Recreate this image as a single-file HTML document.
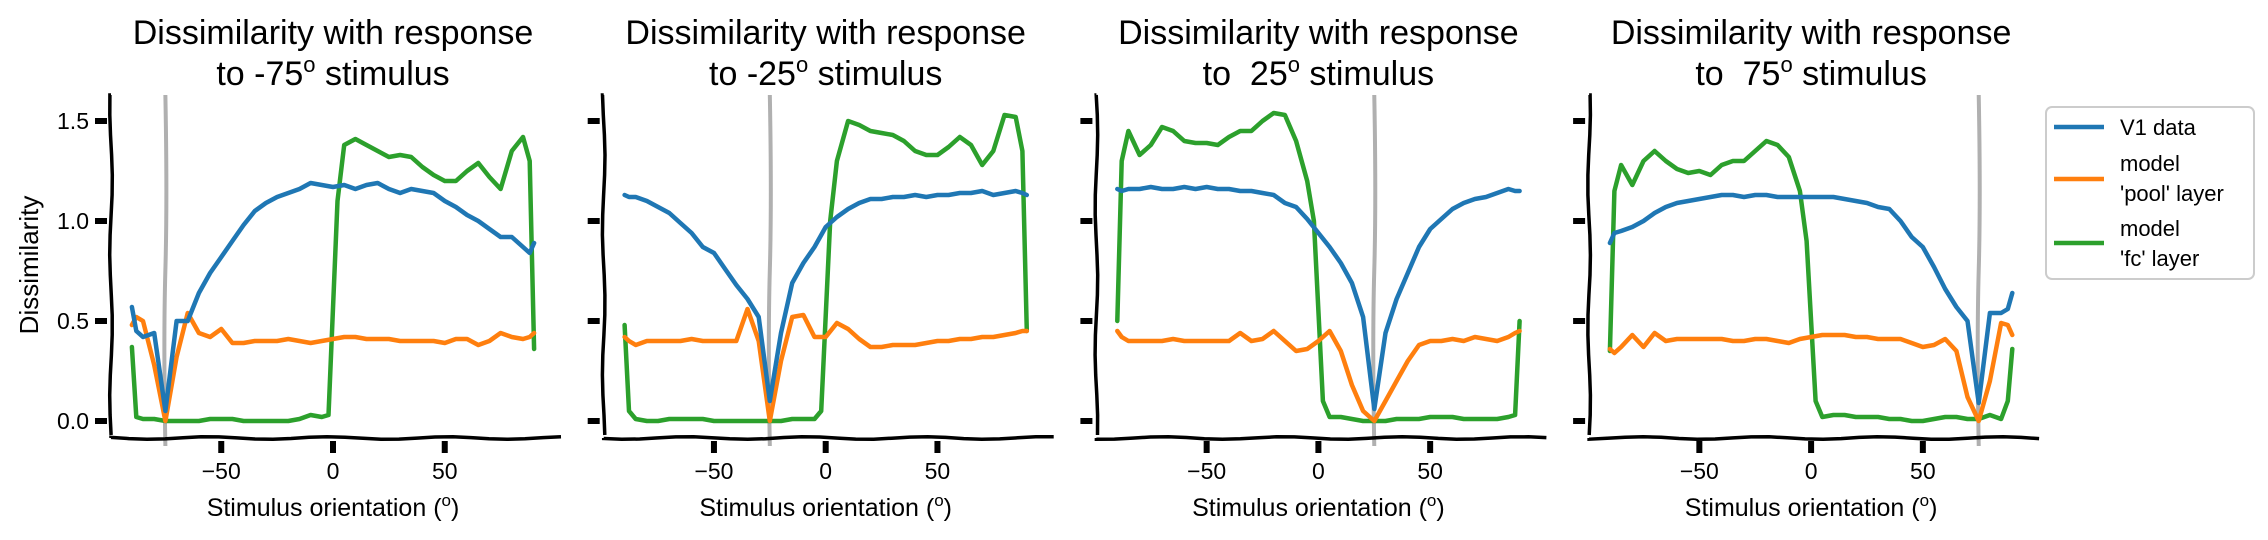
<!DOCTYPE html>
<html><head><meta charset="utf-8">
<style>
html,body{margin:0;padding:0;background:#fff;}
svg{display:block;font-family:"Liberation Sans","DejaVu Sans",sans-serif;}
</style></head>
<body>
<svg id="chart" width="2268" height="540" viewBox="0 0 2268 540" xmlns="http://www.w3.org/2000/svg">
<g id="panels"></g>
<g>
  <rect x="2046" y="107" width="208" height="172" rx="6" fill="#fff" stroke="#ccc" stroke-width="2"/>
  <line x1="2054" y1="127" x2="2104" y2="127" stroke="#1f77b4" stroke-width="4.5"/>
  <text x="2120" y="135" font-size="22">V1 data</text>
  <line x1="2054" y1="179" x2="2104" y2="179" stroke="#ff7f0e" stroke-width="4.5"/>
  <text x="2120" y="171" font-size="22">model</text>
  <text x="2120" y="201" font-size="22">'pool' layer</text>
  <line x1="2054" y1="243" x2="2104" y2="243" stroke="#2ca02c" stroke-width="4.5"/>
  <text x="2120" y="236" font-size="22">model</text>
  <text x="2120" y="266" font-size="22">'fc' layer</text>
</g>
</svg>
<script>
const stimuli = [-75, -25, 25, 75];
const angles = [-90,-88,-85,-80,-75,-70,-65,-60,-55,-50,-45,-40,-35,-30,-25,-20,-15,-10,-5,0,5,10,15,20,25,30,35,40,45,50,55,60,65,70,75,80,85,88,90];
const fcAngles = [-90,-88,-85,-80,-75,-70,-65,-60,-55,-50,-45,-40,-35,-30,-25,-20,-15,-10,-5,-2,2,5,10,15,20,25,30,35,40,45,50,55,60,65,70,75,80,85,88,90];
const yTicks = [0, 0.5, 1.0, 1.5];
const yTickLabels = ["0.0", "0.5", "1.0", "1.5"];
const xTicks = [-50, 0, 50];
const xTickLabels = ["\u221250", "0", "50"];

const v1Data = [
 [.57,.45,.42,.44,.05,.50,.50,.64,.74,.82,.90,.98,1.05,1.09,1.12,1.14,1.16,1.19,1.18,1.17,1.18,1.16,1.18,1.19,1.16,1.14,1.16,1.15,1.14,1.10,1.07,1.03,1.00,.96,.92,.92,.87,.84,.89],
 [1.13,1.12,1.12,1.10,1.07,1.04,.99,.94,.87,.84,.76,.68,.61,.52,.10,.44,.69,.79,.87,.97,1.02,1.06,1.09,1.11,1.11,1.12,1.12,1.13,1.12,1.13,1.13,1.14,1.14,1.15,1.13,1.14,1.15,1.14,1.13],
 [1.16,1.15,1.16,1.16,1.17,1.16,1.16,1.17,1.16,1.17,1.16,1.16,1.15,1.15,1.14,1.13,1.09,1.07,1.01,.94,.87,.79,.69,.52,.06,.44,.61,.74,.87,.96,1.01,1.06,1.09,1.11,1.12,1.14,1.16,1.15,1.15],
 [.89,.94,.95,.97,1.00,1.04,1.07,1.09,1.10,1.11,1.12,1.13,1.13,1.12,1.13,1.13,1.12,1.12,1.12,1.12,1.12,1.12,1.11,1.10,1.09,1.07,1.06,1.00,.92,.87,.77,.66,.57,.50,.09,.54,.54,.56,.64]
];
const poolData = [
 [.48,.52,.50,.28,.00,.32,.54,.44,.42,.46,.39,.39,.40,.40,.40,.41,.40,.39,.40,.41,.42,.42,.41,.41,.41,.40,.40,.40,.40,.39,.41,.41,.38,.40,.44,.42,.41,.42,.44],
 [.42,.40,.38,.40,.40,.40,.40,.41,.40,.40,.40,.40,.56,.40,.00,.30,.52,.53,.42,.42,.49,.46,.41,.37,.37,.38,.38,.38,.39,.40,.40,.41,.41,.42,.42,.43,.44,.45,.45],
 [.45,.42,.40,.40,.40,.40,.41,.40,.40,.40,.40,.40,.44,.40,.41,.45,.40,.35,.36,.40,.45,.35,.18,.05,.00,.10,.20,.30,.38,.40,.40,.41,.40,.42,.41,.40,.42,.44,.45],
 [.36,.34,.37,.43,.37,.44,.40,.41,.41,.41,.41,.41,.40,.40,.41,.41,.40,.39,.41,.42,.43,.43,.43,.42,.42,.41,.41,.41,.39,.37,.38,.41,.35,.12,.00,.20,.49,.48,.43]
];
const fcData = [
 [.37,.02,.01,.01,.00,.00,.00,.00,.01,.01,.01,.00,.00,.00,.00,.00,.01,.03,.02,.03,1.10,1.38,1.41,1.38,1.35,1.32,1.33,1.32,1.27,1.23,1.20,1.20,1.25,1.29,1.22,1.16,1.35,1.42,1.30,.36],
 [.48,.05,.01,.00,.00,.01,.01,.01,.01,.00,.00,.00,.00,.00,.00,.00,.01,.01,.01,.05,1.00,1.30,1.50,1.48,1.45,1.44,1.43,1.40,1.35,1.33,1.33,1.37,1.42,1.38,1.28,1.35,1.53,1.52,1.35,.45],
 [.50,1.30,1.45,1.33,1.38,1.47,1.45,1.40,1.39,1.39,1.38,1.42,1.45,1.45,1.50,1.54,1.53,1.40,1.20,1.00,.10,.02,.02,.01,.00,.00,.00,.01,.01,.01,.02,.02,.02,.01,.01,.01,.01,.02,.03,.50],
 [.35,1.15,1.28,1.18,1.30,1.35,1.30,1.26,1.24,1.25,1.23,1.28,1.30,1.30,1.35,1.40,1.38,1.32,1.15,.90,.10,.02,.03,.03,.02,.02,.02,.01,.01,.00,.00,.01,.02,.02,.01,.01,.03,.01,.10,.36]
];

const NS = "http://www.w3.org/2000/svg";
const root = document.getElementById('panels');
const Y0 = 421, YPX = 200, PX_PER_DEG = 2.235;

function mk(tag, attrs, parent) {
  const e = document.createElementNS(NS, tag);
  for (const k in attrs) e.setAttribute(k, attrs[k]);
  parent.appendChild(e);
  return e;
}
function yScale(v) { return Y0 - v * YPX; }

stimuli.forEach((stim, p) => {
  const x0 = 333 + 492.7 * p;
  const xScale = d => x0 + d * PX_PER_DEG;
  const left = x0 - 222, right = x0 + 224;
  const g = mk('g', {}, root);
  
  

  const t = mk('text', {x: x0, y: 44, 'text-anchor': 'middle', 'font-size': 34}, g);
  
  
  t.textContent = 'Dissimilarity with response';
  const t2 = mk('text', {x: x0, y: 85, 'text-anchor': 'middle', 'font-size': 34, 'xml:space': 'preserve'}, g);
  
  
  t2.appendChild(document.createTextNode('to ' + (stim < 0 ? '-' : '\u00a0') + Math.abs(stim)));
  const sup = mk('tspan', {'font-size': 22, dy: -13}, t2);
  sup.textContent = 'o';
  const rest = mk('tspan', {dy: 13}, t2);
  rest.textContent = ' stimulus';

  const sx = xScale(stim);
  const gl = mk('path', {d: `M${sx},95 Q${sx+2},200 ${sx},270 T${sx},446`, stroke: '#b0b0b0', 'stroke-width': 4, fill: 'none'}, g);
  
  

  const series = [[fcData[p], fcAngles, '#2ca02c', 'fc-layer-line'], [poolData[p], angles, '#ff7f0e', 'pool-layer-line'], [v1Data[p], angles, '#1f77b4', 'v1-data-line']];
  series.forEach(([vals, xsArr, col, nm]) => {
    const d = vals.map((v, i) => (i ? 'L' : 'M') + xScale(xsArr[i]).toFixed(1) + ',' + yScale(v).toFixed(1)).join(' ');
    const path = mk('path', {d: d, stroke: col, 'stroke-width': 4.5, fill: 'none', 'stroke-linejoin': 'round', 'stroke-linecap': 'round'}, g);
    
    
  });

  let yd = `M${left},95`;
  for (let y = 95; y <= 436; y += 20) yd += ` L${(left + 1.3 * Math.sin(y / 23 + p)).toFixed(1)},${y}`;
  const ys = mk('path', {d: yd, stroke: '#000', 'stroke-width': 3.5, fill: 'none'}, g);
  
  
  let xd = `M${left},438`;
  for (let x = left; x <= right + 10; x += 18) xd += ` L${x},${(438 + 1.3 * Math.sin(x / 19)).toFixed(1)}`;
  const xs = mk('path', {d: xd, stroke: '#000', 'stroke-width': 3.5, fill: 'none'}, g);
  
  

  yTicks.forEach((v, i) => {
    const r = mk('rect', {x: left - 16, y: yScale(v) - 3, width: 12, height: 6, fill: '#000'}, g);
    
    
    if (p === 0) {
      const tl = mk('text', {x: left - 22, y: yScale(v) + 8, 'text-anchor': 'end', 'font-size': 23}, g);
      
      
      tl.textContent = yTickLabels[i];
    }
  });
  xTicks.forEach((v, i) => {
    const r = mk('rect', {x: xScale(v) - 3, y: 441, width: 6, height: 12, fill: '#000'}, g);
    
    
    const tl = mk('text', {x: xScale(v), y: 479, 'text-anchor': 'middle', 'font-size': 23}, g);
    
    
    tl.textContent = xTickLabels[i];
  });
  const xl = mk('text', {x: x0, y: 516, 'text-anchor': 'middle', 'font-size': 25}, g);
  
  
  xl.appendChild(document.createTextNode('Stimulus orientation ('));
  const s2 = mk('tspan', {'font-size': 17, dy: -10}, xl);
  s2.textContent = 'o';
  const s3 = mk('tspan', {dy: 10}, xl);
  s3.textContent = ')';
});

const yl = mk('text', {x: 0, y: 0, 'text-anchor': 'middle', 'font-size': 26, transform: 'translate(38,265) rotate(-90)'}, root);


yl.textContent = 'Dissimilarity';
</script>
</body></html>
